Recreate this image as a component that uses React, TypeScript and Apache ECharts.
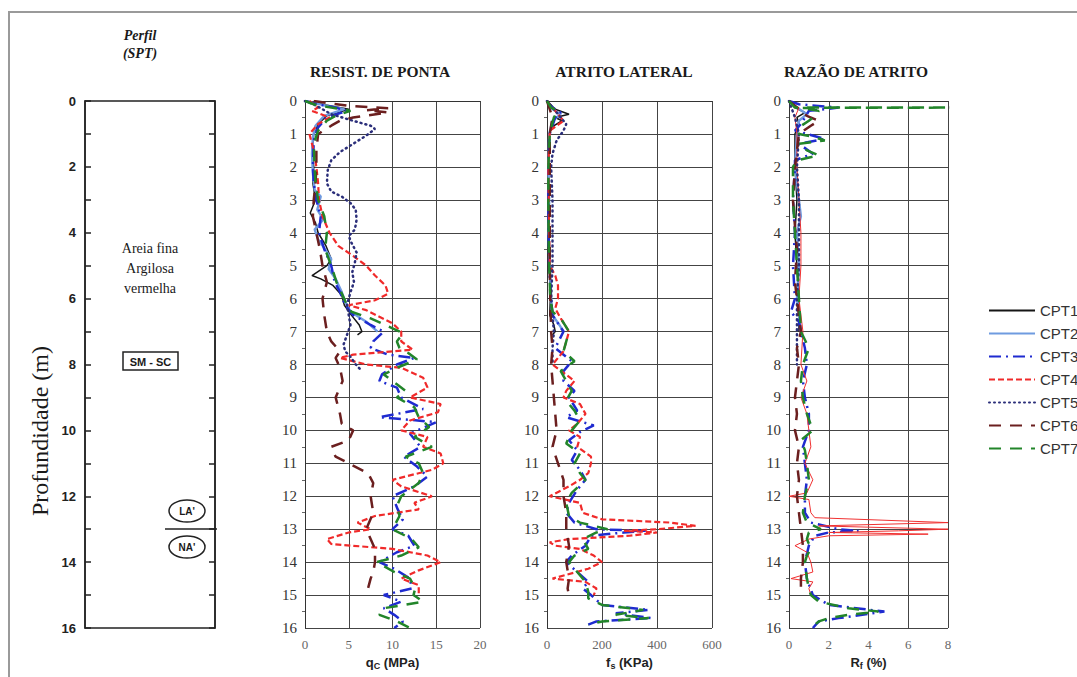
import React, { useEffect, useRef } from "react";
import * as echarts from "echarts";

const cptNames = ["CPT1", "CPT2", "CPT3", "CPT4", "CPT5", "CPT6", "CPT7"];
const depthTicks = [0, 2, 4, 6, 8, 10, 12, 14, 16];

// qc (MPa) : [value, depth m]
const qcCPT1 = [[0,0],[3,0.15],[5,0.25],[2.5,0.45],[1.5,0.7],[1,1.0],[0.8,1.5],[1,2],[0.9,2.5],[1.2,3],[0.6,3.4],[1.2,3.7],[1.5,4.0],[2.4,4.4],[3,4.8],[2.5,5.0],[0.8,5.3],[1.8,5.4],[3.2,5.6],[4.2,5.9],[4.5,6.2],[5.3,6.5],[6.2,6.8],[6.5,7.0],[6,7.1]];
const qcCPT2 = [[0,0],[2,0.12],[4.5,0.25],[2.2,0.45],[1.2,0.75],[0.9,1.1],[0.8,1.6],[0.9,2.2],[1.1,2.7],[1.8,2.9],[1.4,3.3],[2.1,3.6],[1.1,3.9],[1.5,4.2],[2.3,4.5],[3.0,4.8],[2.7,5.1],[3.5,5.4],[4.2,5.8],[4.6,6.1],[5.2,6.4],[7.0,6.7],[8.3,7.0]];
const qcCPT3 = [[0,0],[1.5,0.1],[3.5,0.2],[4.8,0.3],[2.5,0.5],[1.5,0.8],[1.0,1.2],[0.9,2],[1.0,2.5],[1.3,3],[1.8,3.5],[1.6,4],[2.2,4.5],[3.0,5],[3.4,5.5],[4.0,5.8],[4.6,6.2],[5.5,6.5],[7.5,6.8],[9.0,7.0],[7.8,7.3],[7.5,7.5],[9.5,7.7],[12.5,7.8],[10.5,8.0],[8.8,8.3],[8.5,8.5],[10.5,8.7],[11,9.0],[13.5,9.35],[8.5,9.6],[15,9.75],[12,10.1],[13.2,10.5],[11.3,10.8],[12.8,11.1],[14,11.4],[12.5,11.7],[10,12.0],[10.6,12.4],[11.2,12.7],[10,13.0],[11.8,13.2],[12.5,13.5],[10.5,13.7],[8.5,14.0],[10.2,14.2],[12,14.5],[12.2,14.8],[9,15.0],[11,15.2],[9,15.4],[10.2,15.6],[11.2,15.8],[10.2,16.0]];
const qcCPT4 = [[0.5,0],[1.5,0.2],[0.8,0.3],[2.8,0.5],[1.5,0.7],[0.5,1.0],[1.0,1.5],[1.3,2],[1.5,2.5],[1.6,3],[2.0,3.5],[2.8,4.0],[3.8,4.4],[5.5,4.7],[7.0,5.0],[8.0,5.3],[9.2,5.6],[9.5,5.85],[8.0,6.05],[5.0,6.2],[7.0,6.35],[8.5,6.55],[10,6.75],[11,7.0],[11,7.3],[12.3,7.55],[5.5,7.7],[4.0,7.8],[7.0,8.0],[11,8.1],[13.5,8.4],[14,8.7],[12,9.0],[15.5,9.2],[15.2,9.45],[12,9.7],[11,10.0],[14,10.2],[13.5,10.5],[15.5,10.7],[15.8,11.0],[14.5,11.2],[10,11.5],[11,11.7],[14.5,12.0],[12.5,12.2],[13,12.4],[8,12.6],[6,12.8],[7.5,13.0],[5,13.1],[2.5,13.3],[3,13.45],[10,13.6],[14,13.8],[15.5,14.0],[13,14.25],[11,14.5],[13,14.7],[13,15.0]];
const qcCPT5 = [[0,0],[1,0.1],[3,0.4],[5.5,0.6],[7.5,0.75],[8,0.85],[7,1.05],[5.5,1.3],[4,1.55],[3,1.8],[2.6,2.1],[2.5,2.5],[3,2.75],[4.2,2.9],[5.2,3.1],[5.8,3.3],[5.9,3.6],[5.7,3.9],[5,4.1],[5.3,4.3],[5.9,4.6],[5.7,4.9],[5.4,5.2],[5.6,5.5],[5.2,5.8],[4.8,6.2],[5,6.5],[5.2,6.8],[4.8,7.1],[4.4,7.4],[4.6,7.6],[5.3,7.8],[5.8,8.0],[6.5,8.2]];
const qcCPT6 = [[1,0],[5,0.15],[9.5,0.22],[7,0.28],[9.5,0.35],[5.5,0.5],[4,0.6],[3,0.75],[1.5,1.0],[1.3,1.5],[1.3,2],[1.2,2.5],[1.0,3],[0.9,3.5],[1.3,4.0],[1.7,4.5],[2.0,5.0],[2.5,5.5],[2.0,6.0],[2.2,6.5],[2.5,7.0],[3.0,7.3],[4.0,7.6],[3.5,7.8],[4.0,8.1],[4.3,8.5],[3.5,9.0],[4.0,9.5],[4.2,9.8],[5.5,10.0],[5.0,10.3],[3.0,10.5],[3.5,10.8],[5.0,11.0],[7.2,11.3],[7.8,11.6],[7.5,12.0],[7.8,12.5],[7.0,13.0],[7.5,13.3],[8.0,13.6],[8.0,14.0],[7.8,14.3],[7.5,14.5],[7.2,14.8]];
const qcCPT7 = [[0,0],[1,0.1],[3,0.2],[5.2,0.3],[3.5,0.45],[2.5,0.6],[1.5,0.9],[1.0,1.3],[1.1,2],[1.2,2.5],[1.5,3],[2.2,3.5],[2.5,4.0],[2.3,4.5],[3.0,5.0],[3.6,5.5],[4.3,5.9],[4.8,6.2],[5.3,6.4],[7.5,6.6],[10,6.9],[11.2,7.05],[10.5,7.3],[10.8,7.5],[11.8,7.65],[12.8,7.85],[10.5,8.1],[9.0,8.3],[10.5,8.6],[11.5,8.8],[10.5,9.0],[12.5,9.3],[13,9.6],[14.2,9.9],[12.5,10.2],[14.5,10.5],[11.5,10.8],[13,11.0],[13.5,11.3],[13,11.6],[11,12.0],[10.5,12.3],[10.8,12.6],[10,13.0],[12.2,13.3],[13,13.55],[11,13.8],[8.2,14.0],[10.2,14.3],[12,14.5],[12.6,14.8],[12.4,15.0],[13.5,15.2],[9,15.4],[8.5,15.6],[10.5,15.8],[12,16.0]];

// fs (KPa)
const fsCPT1 = [[0,0],[30,0.25],[80,0.4],[30,0.5],[55,0.6],[15,0.8],[8,1.0],[5,1.5],[5,2],[8,3],[5,4],[8,5],[12,6],[10,6.5],[25,6.8],[30,7.0],[20,7.1]];
const fsCPT2 = [[0,0],[20,0.25],[50,0.4],[20,0.6],[8,1.0],[5,2],[8,3],[6,4],[10,5],[15,6],[20,6.5],[45,6.8],[60,7.0]];
const fsCPT3 = [[0,0],[20,0.2],[50,0.35],[30,0.5],[10,1.0],[5,2],[5,3],[6,4],[8,5],[15,6],[20,6.5],[60,7.0],[30,7.5],[90,7.9],[60,8.2],[60,8.5],[100,8.8],[80,9.0],[110,9.4],[70,9.6],[170,9.85],[120,10.05],[80,10.3],[110,10.6],[90,10.9],[120,11.2],[140,11.5],[110,11.8],[80,12.2],[70,12.5],[100,12.8],[180,13.0],[360,13.05],[280,13.1],[160,13.2],[140,13.5],[90,13.8],[70,14.0],[110,14.3],[150,14.6],[130,14.8],[160,15.0],[200,15.3],[370,15.45],[250,15.55],[380,15.7],[180,15.8],[150,15.9]];
const fsCPT4 = [[0,0],[40,0.4],[60,0.6],[10,0.9],[5,2],[8,4],[10,5],[30,5.3],[40,5.6],[40,6.0],[30,6.3],[50,6.6],[80,7.0],[70,7.3],[60,7.6],[20,8.0],[100,8.5],[70,8.8],[60,9.0],[120,9.2],[140,9.5],[110,9.8],[80,10.0],[120,10.2],[110,10.5],[160,10.8],[160,11.0],[150,11.3],[120,11.5],[80,11.7],[10,12.0],[120,12.2],[130,12.5],[200,12.7],[450,12.8],[540,12.9],[400,13.0],[280,13.05],[400,13.1],[300,13.2],[80,13.3],[10,13.4],[30,13.5],[120,13.6],[170,13.8],[200,14.0],[150,14.2],[20,14.5],[140,14.6],[180,14.8],[170,15.0]];
const fsCPT5 = [[0,0],[50,0.5],[70,0.7],[60,0.9],[35,1.2],[20,1.6],[15,2],[20,3],[20,4],[20,5],[15,6],[25,7],[20,7.5],[20,8]];
const fsCPT6 = [[0,0],[20,0.5],[10,1],[10,3],[10,5],[12,6],[15,7],[20,7.5],[15,8],[20,8.5],[25,9],[30,9.5],[35,10],[20,10.5],[40,11],[60,11.5],[60,12],[70,12.5],[70,13],[80,13.5],[70,14],[80,14.5],[75,14.8],[80,15]];
const fsCPT7 = [[0,0],[15,0.2],[40,0.3],[25,0.5],[10,1],[5,2],[5,3],[6,4],[8,5],[12,6],[20,6.4],[50,6.6],[80,7.0],[70,7.3],[60,7.6],[100,7.9],[50,8.2],[70,8.5],[90,8.8],[70,9.1],[100,9.4],[120,9.7],[90,10.0],[70,10.4],[120,10.7],[100,11.0],[120,11.3],[140,11.5],[90,11.9],[70,12.2],[80,12.6],[120,12.8],[220,13.0],[180,13.1],[130,13.3],[150,13.6],[100,13.8],[80,14.0],[110,14.3],[140,14.6],[150,14.9],[150,15.1],[200,15.3],[350,15.45],[250,15.6],[370,15.7],[200,15.8],[150,15.9]];

// Rf (%)
const rfCPT1 = [[0,0],[0.3,0.2],[0.8,0.35],[0.4,0.5],[0.5,0.7],[0.3,1],[0.3,2],[0.4,3],[0.3,4],[0.4,5],[0.5,6],[0.5,7]];
const rfCPT2 = [[0,0],[0.4,0.2],[0.9,0.4],[0.5,0.6],[0.4,1],[0.3,2],[0.5,3],[0.6,3.5],[0.4,4],[0.5,5],[0.4,6],[0.6,7]];
const rfCPT3 = [[0,0],[0.5,0.1],[2.5,0.2],[1.0,0.3],[0.8,0.5],[0.6,0.7],[0.3,0.9],[1.8,1.15],[0.5,1.3],[1.2,1.6],[0.3,1.8],[0.3,2],[0.2,3],[0.3,4],[0.2,5],[0.3,6],[0.1,6.4],[0.5,6.7],[0.6,7],[0.8,7.5],[0.9,8],[0.7,8.5],[0.8,9],[1.0,9.5],[1.0,10],[0.7,10.5],[0.8,11],[0.9,11.5],[0.8,12],[0.8,12.5],[1.1,12.8],[2.5,13.0],[3.5,13.05],[2.0,13.1],[1.3,13.2],[1.0,13.5],[0.8,14],[0.9,14.5],[1.2,15],[2.0,15.3],[4.8,15.5],[2.5,15.7],[1.5,15.8],[1.2,16]];
const rfCPT4 = [[0,0],[0.5,0.2],[0.3,0.5],[0.4,1],[0.4,2],[0.5,3],[0.6,4],[0.6,5],[0.5,6],[0.7,7],[0.6,8],[0.9,8.5],[0.6,9],[0.9,9.5],[1.0,10],[1.1,10.5],[0.8,11],[1.2,11.5],[0.9,11.9],[0,12.0],[1.0,12.1],[1.1,12.5],[1.3,12.65],[8,12.8],[1.5,12.9],[8,13.0],[5.5,13.05],[2,13.1],[7,13.15],[2,13.2],[1.0,13.3],[0.3,13.5],[0.9,13.7],[1.1,14],[1.2,14.3],[0.1,14.5],[1.2,14.6],[1.0,14.8],[1.1,15]];
const rfCPT5 = [[0,0],[0.3,0.5],[0.5,1],[0.4,2],[0.5,3],[0.5,4],[0.5,5],[0.4,6],[0.4,7],[0.4,8]];
const rfCPT6 = [[0,0],[0.6,0.3],[0.9,0.45],[1.5,0.6],[1.1,0.75],[0.5,1],[0.3,2],[0.2,3],[0.3,3.8],[0.4,4.5],[0.3,5.5],[0.4,6],[0.5,6.5],[0.6,7],[0.4,7.5],[0.5,8],[0.4,8.5],[0.3,9],[0.4,9.5],[0.3,10],[0.5,10.5],[0.4,11],[0.5,11.5],[0.4,12],[0.5,12.5],[0.6,13],[0.7,13.5],[0.7,14],[0.6,14.5],[0.6,15]];
const rfCPT7 = [[0,0],[0.3,0.2],[8.5,0.2],[0.6,0.21],[1.5,0.3],[1.2,0.5],[1.0,0.6],[0.5,0.8],[0.5,1.0],[1.3,1.1],[1.8,1.2],[0.5,1.3],[0.9,1.5],[1.5,1.65],[0.4,1.8],[0.2,2],[0.2,3],[0.3,4],[0.4,5],[0.5,6],[0.6,7],[1.0,7.5],[0.7,8],[0.6,8.5],[0.7,9],[0.9,9.5],[1.2,10],[0.6,10.3],[0.8,10.6],[0.9,11],[1.0,11.5],[0.8,12],[0.7,12.5],[0.9,12.8],[1.6,13.0],[1.0,13.1],[0.9,13.3],[1.1,13.6],[0.9,13.8],[0.8,14],[0.9,14.5],[1.0,14.8],[1.1,15],[1.5,15.2],[3.0,15.4],[4.5,15.5],[3.0,15.6],[2.0,15.7],[1.5,15.8],[1.3,15.9]];

const qcData = [qcCPT1, qcCPT2, qcCPT3, qcCPT4, qcCPT5, qcCPT6, qcCPT7];
const fsData = [fsCPT1, fsCPT2, fsCPT3, fsCPT4, fsCPT5, fsCPT6, fsCPT7];
const rfData = [rfCPT1, rfCPT2, rfCPT3, rfCPT4, rfCPT5, rfCPT6, rfCPT7];

const lineStyles: any[] = [
  { color: "#151515", width: 1.5, type: "solid" },
  { color: "#6f9be0", width: 2.4, type: "solid" },
  { color: "#1f2bd0", width: 2.5, type: [12, 5, 2, 5] },
  { color: "#f02a2a", width: 2.2, type: [6, 3] },
  { color: "#2b2e7a", width: 2.5, type: [1, 4], cap: "round" },
  { color: "#6b1f1f", width: 2.5, type: [12, 9] },
  { color: "#22852a", width: 2.5, type: [12, 9] },
];

const SERIF = "Liberation Serif";
const SANS = "Liberation Sans";
const TOP = 101;
const H = 527;

const txt = (x: number, y: number, text: string, font: string, extra: any = {}) => ({
  type: "text", x, y, ...extra,
  style: { text, font, fill: "#1a1a1a", align: "center", verticalAlign: "middle", textAlign: "center", textVerticalAlign: "middle" },
});

function App() {
  const ref = useRef<HTMLDivElement>(null);
  useEffect(() => {
    if (!ref.current) return;
    const chart = echarts.init(ref.current, null, { renderer: "svg" });

    const series: any[] = [];
    [qcData, fsData, rfData].forEach((set, pi) => {
      set.forEach((d, i) => {
        let ls = { ...lineStyles[i] };
        if (pi === 2 && i === 3) ls = { color: "#f03030", width: 1, type: "solid" };
        series.push({
          name: cptNames[i],
          type: "line",
          xAxisIndex: pi + 1,
          yAxisIndex: pi + 2,
          data: d,
          symbol: "none",
          showSymbol: false,
          clip: true,
          lineStyle: ls,
          itemStyle: { color: ls.color },
          z: 3,
        });
      });
    });
    series.push({ type: "line", xAxisIndex: 0, yAxisIndex: 0, data: [[0, 0]], symbol: "none", lineStyle: { opacity: 0 } });
    series.push({ type: "line", xAxisIndex: 0, yAxisIndex: 1, data: [[0, 0]], symbol: "none", lineStyle: { opacity: 0 } });

    const grids = [
      { left: 85, top: TOP, width: 130, height: H, show: true, borderColor: "#222", borderWidth: 1.5 },
      { left: 305, top: TOP, width: 175, height: H },
      { left: 547, top: TOP, width: 165, height: H },
      { left: 789, top: TOP, width: 159, height: H },
    ];

    const subName = (main: string, sub: string, rest: string) => `{b|${main}}{s|${sub}}{b|${rest}}`;
    const nameRich = {
      b: { fontFamily: SANS, fontWeight: "bold", fontSize: 13, color: "#222" },
      s: { fontFamily: SANS, fontWeight: "bold", fontSize: 9, color: "#222", padding: [6, 0, 0, 0] },
    };

    const panelX = (gi: number, max: number, interval: number, name: string) => ({
      type: "value",
      gridIndex: gi,
      min: 0,
      max,
      interval,
      position: "bottom",
      axisLine: { show: true, lineStyle: { color: "#333", width: 1 } },
      axisTick: { show: false },
      axisLabel: { margin: 10, fontFamily: SERIF, fontSize: 13, color: "#666" },
      splitLine: { show: true, lineStyle: { color: "#444", width: 1 } },
      name,
      nameLocation: "middle",
      nameGap: 27,
      nameTextStyle: { rich: nameRich },
    });

    const panelY = (gi: number) => ({
      type: "value",
      gridIndex: gi,
      inverse: true,
      min: 0,
      max: 16,
      interval: 1,
      axisLine: { show: true, lineStyle: { color: "#333", width: 1 } },
      axisTick: { show: false },
      minorTick: { show: true, splitNumber: 2, length: 3, lineStyle: { color: "#666" } },
      axisLabel: { margin: 8, fontFamily: SERIF, fontSize: 15, color: "#333" },
      splitLine: { show: true, lineStyle: { color: "#444", width: 1 } },
    });

    const profileTick = { show: true, inside: true, length: 6, interval: 0, lineStyle: { color: "#222", width: 1.5 } };

    const option: any = {
      animation: false,
      backgroundColor: "#fff",
      grid: grids,
      xAxis: [
        { type: "value", gridIndex: 0, min: 0, max: 1, show: false },
        panelX(1, 20, 5, subName("q", "C", " (MPa)")),
        panelX(2, 600, 200, subName("f", "s", " (KPa)")),
        panelX(3, 8, 2, subName("R", "f", " (%)")),
      ],
      yAxis: [
        {
          type: "value", gridIndex: 0, inverse: true, min: 0, max: 16, interval: 1, position: "left",
          axisLine: { show: true, lineStyle: { color: "#222", width: 1.5 } },
          axisTick: profileTick,
          axisLabel: {
            margin: 9, fontFamily: SANS, fontWeight: "bold", fontSize: 13, color: "#222",
            formatter: (v: number) => (depthTicks.indexOf(v) >= 0 ? String(v) : ""),
          },
          splitLine: { show: false },
        },
        {
          type: "value", gridIndex: 0, inverse: true, min: 0, max: 16, interval: 1, position: "right",
          axisLine: { show: true, lineStyle: { color: "#222", width: 1.5 } },
          axisTick: profileTick,
          axisLabel: { show: false },
          splitLine: { show: false },
        },
        panelY(1),
        panelY(2),
        panelY(3),
      ],
      legend: {
        data: cptNames,
        orient: "vertical",
        left: 983,
        top: 298,
        itemWidth: 46,
        itemHeight: 14,
        itemGap: 8,
        itemStyle: { opacity: 0 },
        textStyle: { fontFamily: SANS, fontSize: 15, color: "#333" },
      },
      series,
      graphic: [
        { type: "rect", shape: { x: 9, y: 12, width: 1200, height: 800 }, style: { fill: "none", stroke: "#9a9a9a", lineWidth: 2 }, z: -10 },
        txt(140, 35, "Perfil", `italic bold 14px ${SERIF}`),
        txt(140, 53, "(SPT)", `italic bold 14px ${SERIF}`),
        txt(40, 431, "Profundidade (m)", `24px ${SERIF}`, { rotation: Math.PI / 2 }),
        txt(380, 71, "RESIST. DE PONTA", `bold 15.5px ${SERIF}`),
        txt(624, 71, "ATRITO LATERAL", `bold 15.5px ${SERIF}`),
        txt(856, 71, "RAZÃO DE ATRITO", `bold 15.5px ${SERIF}`),
        txt(150, 248, "Areia fina", `14px ${SERIF}`),
        txt(150, 268, "Argilosa", `14px ${SERIF}`),
        txt(150, 288, "vermelha", `14px ${SERIF}`),
        { type: "rect", shape: { x: 123, y: 352, width: 55, height: 18 }, style: { fill: "#fff", stroke: "#222", lineWidth: 1.5 } },
        txt(150.5, 361.5, "SM - SC", `bold 11px ${SANS}`),
        { type: "ellipse", shape: { cx: 187, cy: 511, rx: 18, ry: 11 }, style: { fill: "#fff", stroke: "#222", lineWidth: 1.5 } },
        txt(187, 511, "LA'", `bold 10px ${SANS}`),
        { type: "line", shape: { x1: 165, y1: 529, x2: 217, y2: 529 }, style: { stroke: "#222", lineWidth: 1.5 } },
        { type: "ellipse", shape: { cx: 187, cy: 547, rx: 18, ry: 11 }, style: { fill: "#fff", stroke: "#222", lineWidth: 1.5 } },
        txt(187, 547, "NA'", `bold 10px ${SANS}`),
      ],
    };
    chart.setOption(option);
    return () => chart.dispose();
  }, []);
  return <div ref={ref} style={{ position: "absolute", left: 0, top: 0, width: 1077, height: 677 }} />;
}

export default App;
